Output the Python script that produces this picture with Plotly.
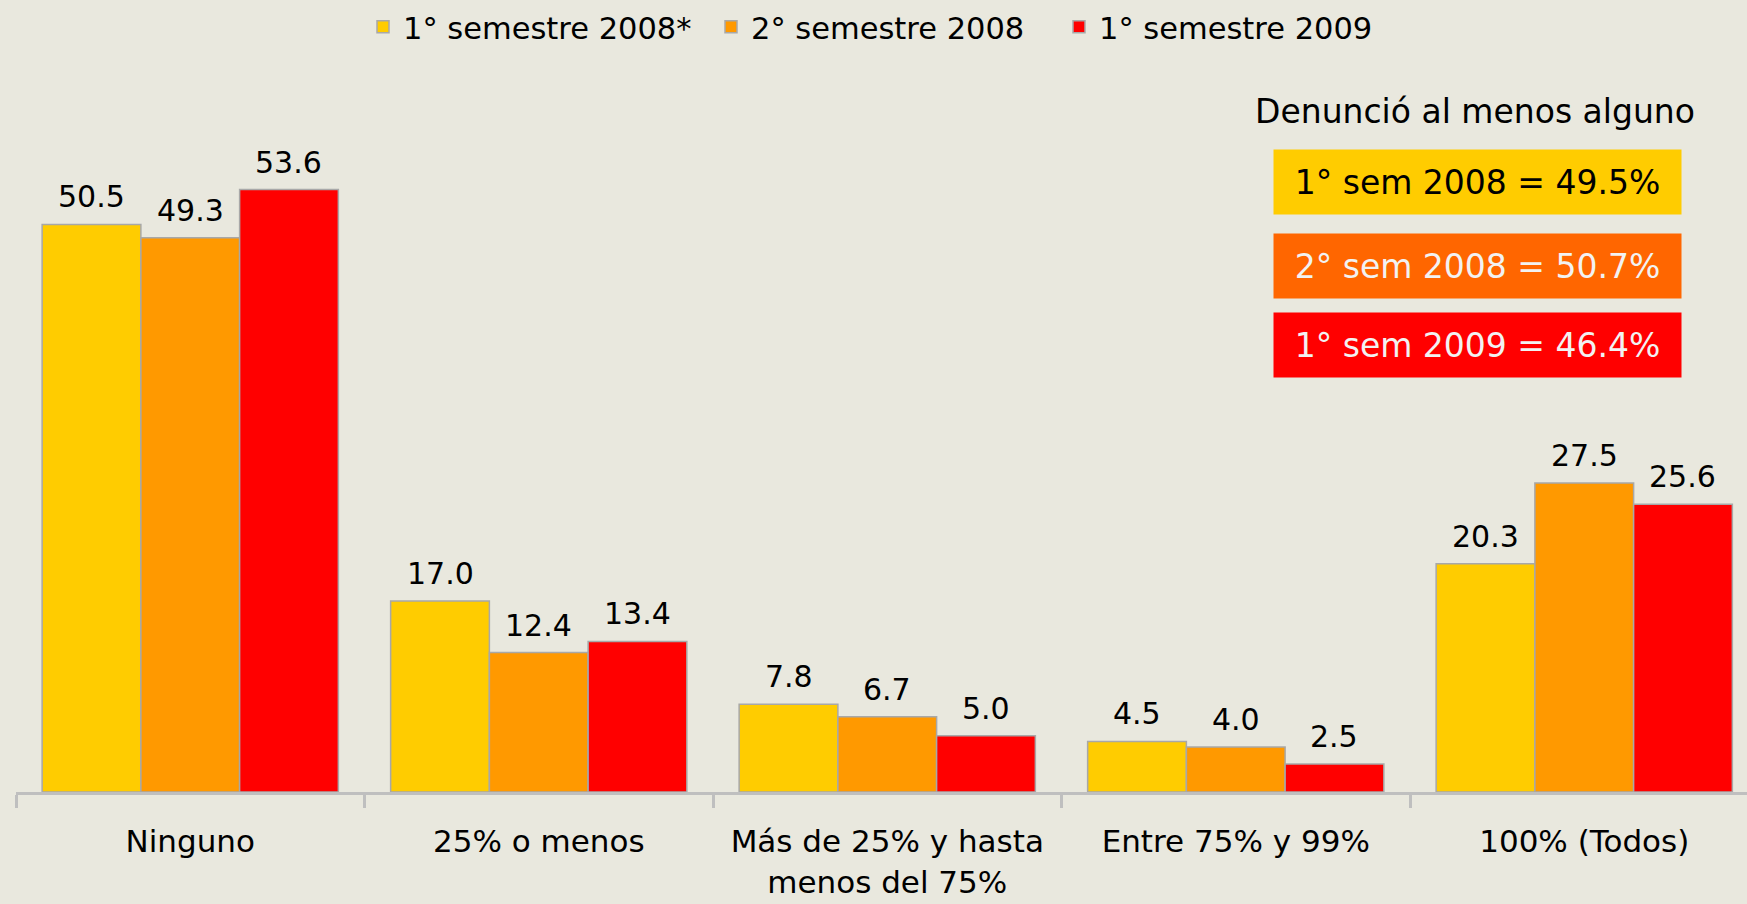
import plotly.graph_objects as go

categories = ["Ninguno", "25% o menos", "Más de 25% y hasta<br>menos del 75%", "Entre 75% y 99%", "100% (Todos)"]
series_names = ["1° semestre 2008*", "2° semestre 2008", "1° semestre 2009"]
s1_2008 = [50.5, 17.0, 7.8, 4.5, 20.3]
s2_2008 = [49.3, 12.4, 6.7, 4.0, 27.5]
s1_2009 = [53.6, 13.4, 5.0, 2.5, 25.6]
colors = ["#FFCC00", "#FF9900", "#FF0000"]

box_title = "Denunció al menos alguno"
box_texts = ["1° sem 2008 = 49.5%", "2° sem 2008 = 50.7%", "1° sem 2009 = 46.4%"]
box_colors = ["#FFCC00", "#FF6600", "#FF0000"]
box_font_colors = ["#000000", "#F2F2F2", "#F2F2F2"]

W, H = 1747, 904
L, R, T, B = 16, 0, 60, 112
PW, PH = W - L - R, H - T - B
cat_px = 348.5
BG = "#E9E8DE"
FONT = "DejaVu Sans"
GROUP = 0.85

fig = go.Figure()
all_series = [s1_2008, s2_2008, s1_2009]
for name, vals, c in zip(series_names, all_series, colors):
    fig.add_trace(go.Bar(
        name=name, x=categories, y=vals,
        marker=dict(color=c, line=dict(color="#A8A8A8", width=1.5)),
        cliponaxis=False,
    ))

# value labels placed through the axes, offset to each bar of the group
nser = len(all_series)
for j, vals in enumerate(all_series):
    off = (j - (nser - 1) / 2) * GROUP / nser
    for i, v in enumerate(vals):
        fig.add_annotation(x=i + off, y=v, xref="x", yref="y", text=f"{v:.1f}",
                           showarrow=False, yanchor="bottom", yshift=8,
                           font=dict(family=FONT, size=30, color="#000000"))

def px_x(px):
    return (px - L) / PW

def px_y(py):
    return (H - B - py) / PH

fig.add_annotation(text=box_title, xref="paper", yref="paper",
                   x=px_x(1475), y=px_y(111), xanchor="center", yanchor="middle",
                   showarrow=False, font=dict(family=FONT, size=33, color="#000000"))
for i, (t, bc, fc) in enumerate(zip(box_texts, box_colors, box_font_colors)):
    cy = [181.5, 266, 345][i]
    fig.add_annotation(text=t, xref="paper", yref="paper",
                       x=px_x(1477), y=px_y(cy), xanchor="center", yanchor="middle",
                       showarrow=False, bgcolor=bc, width=407, height=64, borderpad=0,
                       font=dict(family=FONT, size=33, color=fc))

fig.update_layout(
    width=W, height=H,
    margin=dict(l=L, r=R, t=T, b=B, autoexpand=False),
    paper_bgcolor=BG, plot_bgcolor=BG,
    barmode="group", bargap=1 - GROUP, bargroupgap=0,
    font=dict(family=FONT, size=30, color="#000000"),
    showlegend=True,
    legend=dict(orientation="h", x=px_x(885), xanchor="center", y=px_y(27), yref="paper",
                yanchor="middle", font=dict(family=FONT, size=30.5, color="#000000"),
                bgcolor="rgba(0,0,0,0)", itemwidth=30, entrywidth=303, entrywidthmode="pixels"),
    xaxis=dict(range=[-0.5, -0.5 + PW / cat_px], showgrid=False, zeroline=False,
               showline=True, linecolor="#BFBFBF", linewidth=3, automargin=False,
               ticks="outside", tickson="boundaries", ticklen=13, tickwidth=3, tickcolor="#BFBFBF",
               tickfont=dict(family=FONT, size=31, color="#000000"), ticklabelstandoff=20),
    yaxis=dict(range=[0, PH / 11.24], visible=False, fixedrange=True),
)

fig.write_html("out.html", config={"displayModeBar": False},
               post_script="document.body.style.margin='0';document.body.style.background='" + BG + "';")
